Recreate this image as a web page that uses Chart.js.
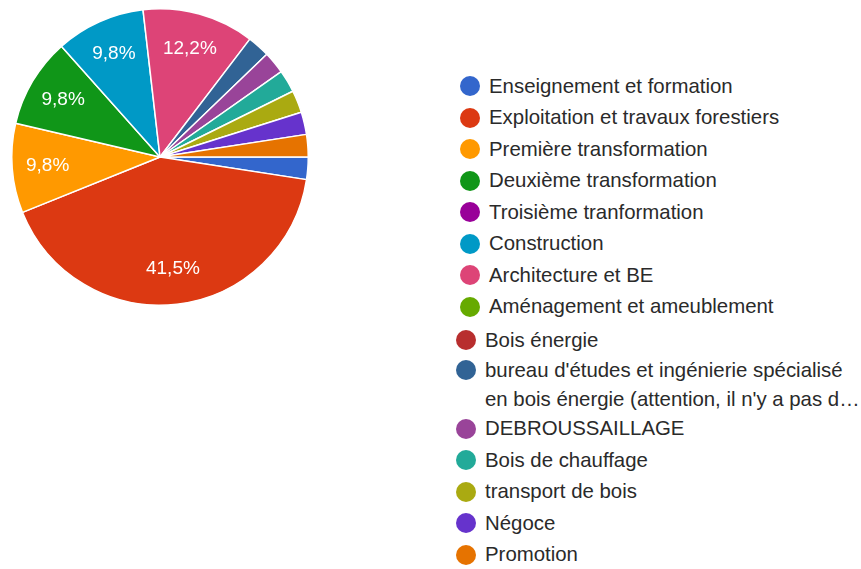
<!DOCTYPE html>
<html>
<head>
<meta charset="utf-8">
<script src="https://cdn.jsdelivr.net/npm/chart.js@4.4.1/dist/chart.umd.min.js"></script>
<style>
    body { margin: 0; background: #fff; width: 861px; height: 569px; overflow: hidden; font-family: "Liberation Sans", Arial, sans-serif; }
    #pieBox { position: absolute; left: 0; top: 0; width: 320px; height: 314px; }
    #legend { position: absolute; left: 460px; top: 70.5px; margin: 0; padding: 0; list-style: none; color: #2a2a2a; font-size: 20.4px; }
    #legend li { position: relative; height: 31.5px; line-height: 31.5px; padding-left: 29px; white-space: nowrap; }
    #legend li.multi { height: 57px; line-height: 28.5px; }
    #legend li.shift { margin-left: -4px; }
    #legend .dot { position: absolute; left: 0; width: 20px; height: 20px; border-radius: 50%; }
</style>
</head>
<body>
<div id="pieBox"><canvas id="sectorChart"></canvas></div>
<ul id="legend"></ul>
<script>
const sectors = [
    'Enseignement et formation',
    'Exploitation et travaux forestiers',
    'Première transformation',
    'Deuxième transformation',
    'Troisième tranformation',
    'Construction',
    'Architecture et BE',
    'Aménagement et ameublement',
    'Bois énergie',
    ['bureau d\'études et ingénierie spécialisé', 'en bois énergie (attention, il n\'y a pas d…'],
    'DEBROUSSAILLAGE',
    'Bois de chauffage',
    'transport de bois',
    'Négoce',
    'Promotion'
];
const responses = [1, 17, 4, 4, 0, 4, 5, 0, 0, 1, 1, 1, 1, 1, 1];
const sectorColors = ['#3366cc', '#dc3912', '#ff9900', '#109618', '#990099', '#0099c6', '#dd4477',
    '#66aa00', '#b82e2e', '#316395', '#994499', '#22aa99', '#aaaa11', '#6633cc', '#e67300'];

const total = responses.reduce((a, b) => a + b, 0);

// percent labels inside the bigger slices
const sliceLabels = {
    id: 'sliceLabels',
    afterDatasetsDraw(chart) {
        const ctx = chart.ctx;
        const arcs = chart.getDatasetMeta(0).data;
        ctx.save();
        ctx.fillStyle = '#fff';
        ctx.font = '19px "Liberation Sans", Arial, sans-serif';
        ctx.textAlign = 'center';
        ctx.textBaseline = 'middle';
        arcs.forEach((arc, i) => {
            const pct = responses[i] / total * 100;
            if (pct < 5) return;
            const p = arc.getProps(['x', 'y', 'startAngle', 'endAngle', 'outerRadius'], true);
            const mid = (p.startAngle + p.endAngle) / 2;
            const r = p.outerRadius * 0.76;
            ctx.fillText(pct.toFixed(1).replace('.', ',') + '%', p.x + Math.cos(mid) * r, p.y + Math.sin(mid) * r);
        });
        ctx.restore();
    }
};

const sectorChart = new Chart(document.getElementById('sectorChart'), {
    type: 'pie',
    data: {
        labels: sectors,
        datasets: [{
            data: responses,
            backgroundColor: sectorColors,
            borderColor: '#fff',
            borderWidth: 1.5
        }]
    },
    options: {
        responsive: true,
        maintainAspectRatio: false,
        animation: false,
        rotation: 90,
        layout: { padding: 8 },
        plugins: {
            legend: { display: false },
            tooltip: { enabled: false }
        }
    },
    plugins: [sliceLabels]
});

// html legend from the chart's own labels and colours
const legend = document.getElementById('legend');
sectorChart.data.labels.forEach((label, i) => {
    const li = document.createElement('li');
    const lines = Array.isArray(label) ? label : [label];
    if (lines.length > 1) li.className = 'multi';
    if (i >= 8) {
        li.className += ' shift';
        if (i === 8) li.style.marginTop = '2px';
    }
    const dot = document.createElement('span');
    dot.className = 'dot';
    dot.style.background = sectorChart.data.datasets[0].backgroundColor[i];
    dot.style.top = lines.length > 1 ? '4.25px' : '5.75px';
    li.appendChild(dot);
    lines.forEach((t, k) => {
        if (k) li.appendChild(document.createElement('br'));
        li.appendChild(document.createTextNode(t));
    });
    legend.appendChild(li);
});
</script>
</body>
</html>
